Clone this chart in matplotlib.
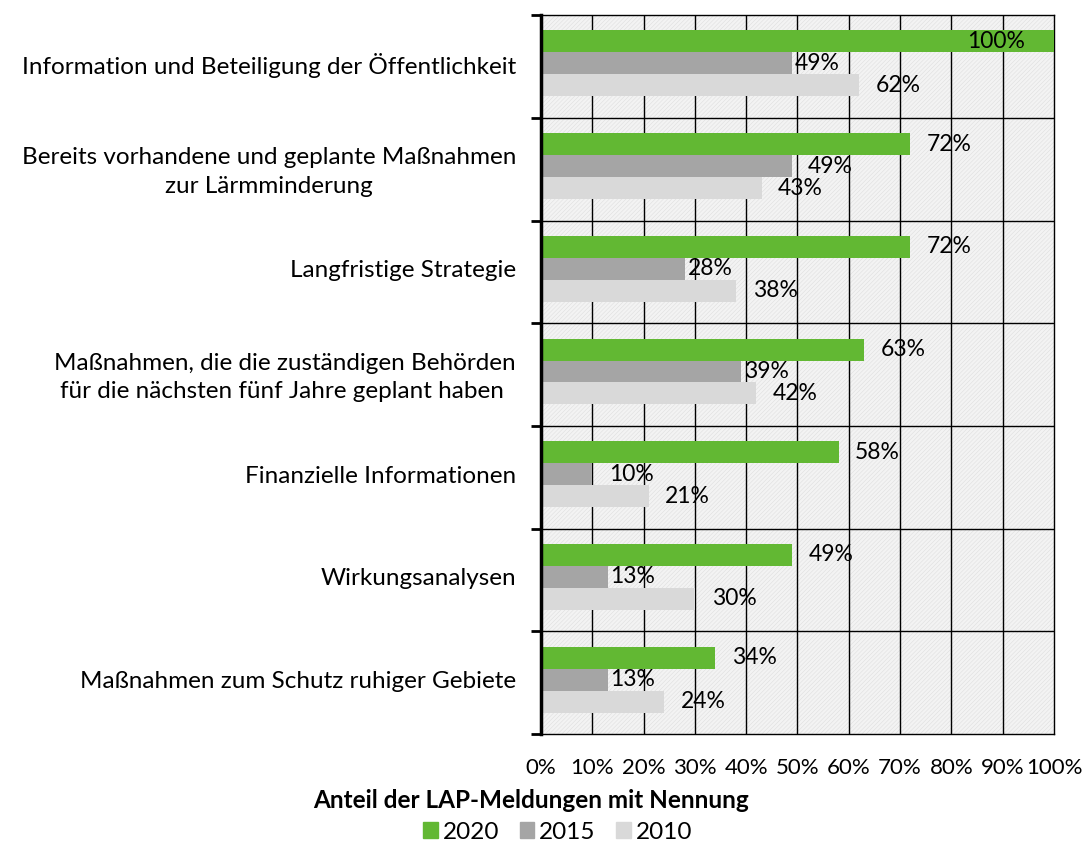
import numpy as np
import matplotlib.pyplot as plt
from matplotlib.patches import Rectangle, Patch
from matplotlib.ticker import FuncFormatter

plt.rcParams['font.family'] = ['Lato', 'DejaVu Sans']
plt.rcParams['hatch.linewidth'] = 0.35

categories = [
    "Information und Beteiligung der Öffentlichkeit",
    "Bereits vorhandene und geplante Maßnahmen\nzur Lärmminderung",
    "Langfristige Strategie",
    "Maßnahmen, die die zuständigen Behörden\nfür die nächsten fünf Jahre geplant haben ",
    "Finanzielle Informationen",
    "Wirkungsanalysen",
    "Maßnahmen zum Schutz ruhiger Gebiete",
]
years = ["2020", "2015", "2010"]
v2020 = [100, 72, 72, 63, 58, 49, 34]
v2015 = [49, 49, 28, 39, 10, 13, 13]
v2010 = [62, 43, 38, 42, 21, 30, 24]

colors = ["#62b833", "#a5a5a5", "#d9d9d9"]
# label offsets in points (Excel placed them a bit unevenly)
offsets = [
    [12, 12, 12, 12, 12, 12, 12],
    [2, 11, 2, 2, 12, 2, 2],
    [12, 12, 12, 12, 12, 12, 12],
]

fig = plt.figure(figsize=(10.83, 8.43), dpi=100)
ax = fig.add_axes([0.4995, 0.1293, 0.4737, 0.8527])

# hatched background
bg = Rectangle((0, 0), 1, 1, transform=ax.transAxes, facecolor="#f3f3f3",
               edgecolor="#dcdcdc", hatch="////////", linewidth=0, zorder=0)
ax.add_patch(bg)

y = np.arange(len(categories))
h = 0.214
series = [v2020, v2015, v2010]
for k, vals in enumerate(series):
    pos = y + (k - 1) * h - 0.03
    ax.barh(pos, vals, height=h, color=colors[k], zorder=3, label=years[k])
    for i, v in enumerate(vals):
        if v >= 100:
            ax.annotate(f"{v}%", (v, pos[i]), xytext=(-21, 0), textcoords="offset points",
                        ha="right", va="center", fontsize=16.5, zorder=4)
        else:
            ax.annotate(f"{v}%", (v, pos[i]), xytext=(offsets[k][i], 0), textcoords="offset points",
                        ha="left", va="center", fontsize=16.5, zorder=4)

ax.set_xlim(0, 100)
ax.set_ylim(len(categories) - 0.5, -0.5)
ax.set_xticks(np.arange(0, 101, 10))
ax.xaxis.set_major_formatter(FuncFormatter(lambda x, p: f"{int(x)}%"))
ax.tick_params(axis="x", length=0, pad=17, labelsize=16)

bounds = np.arange(-0.5, len(categories), 1.0)
ax.set_yticks(bounds)
ax.set_yticklabels([])
ax.set_yticks(y - 0.03, minor=True)
ax.set_yticklabels(categories, minor=True, fontsize=17.5, ha="right",
                   multialignment="center", linespacing=1.45)
ax.tick_params(axis="y", which="major", length=7, width=2, direction="out")
ax.tick_params(axis="y", which="minor", length=0, pad=18)

for xv in np.arange(10, 100, 10):
    ax.axvline(xv, color="black", linewidth=1, zorder=1)
for b in bounds[1:-1]:
    ax.axhline(b, color="black", linewidth=1, zorder=1)

for s in ["top", "right", "bottom"]:
    ax.spines[s].set_linewidth(1)
ax.spines["left"].set_linewidth(2.5)
ax.spines["left"].set_zorder(5)

fig.text(0.49, 0.051, "Anteil der LAP-Meldungen mit Nennung", ha="center", va="center",
         fontsize=17.5, fontweight="bold")
handles = [Patch(color=c) for c in colors]
fig.legend(handles, years, loc="center", bbox_to_anchor=(0.515, 0.013), ncol=3, frameon=False,
           fontsize=17.5, handlelength=0.6, handleheight=0.6, handletextpad=0.2,
           columnspacing=0.85, borderpad=0)

fig.savefig("out.png", dpi=100)
